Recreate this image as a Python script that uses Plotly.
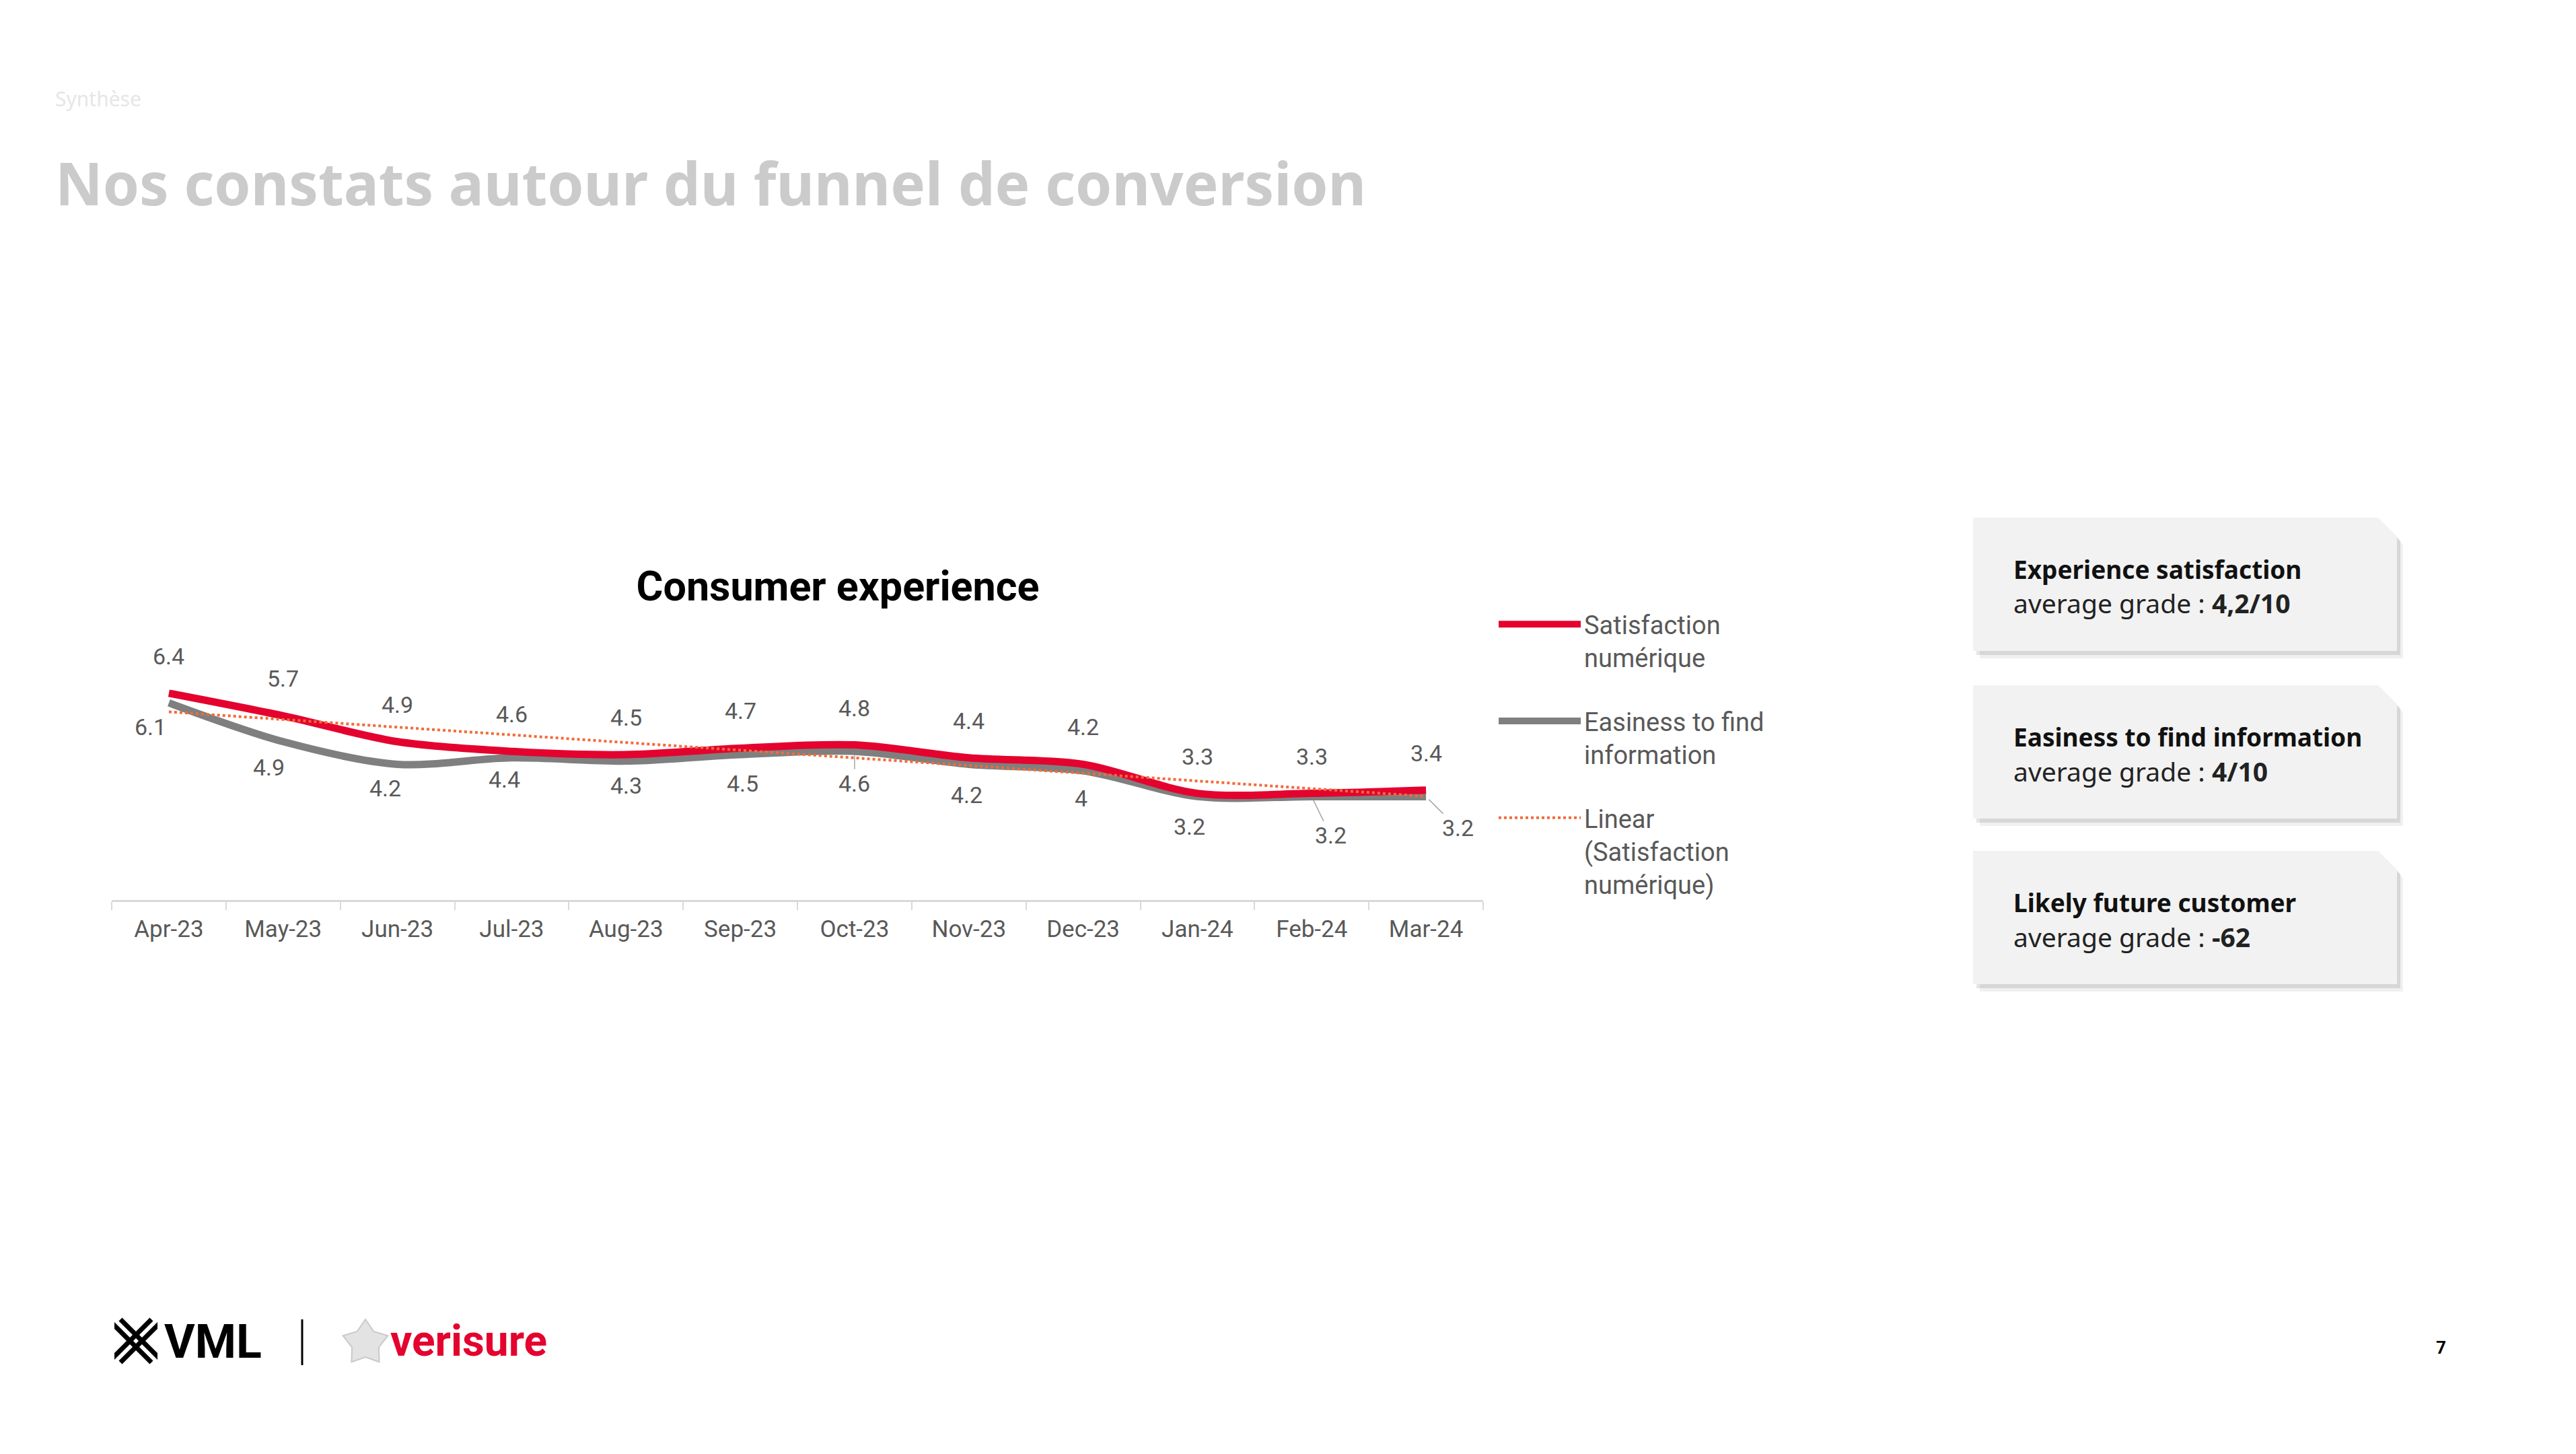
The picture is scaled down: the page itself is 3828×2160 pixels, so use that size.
import numpy as np
import plotly.graph_objects as go

W, H = 3828, 2160

# ---------------- data ----------------
months = ["Apr-23", "May-23", "Jun-23", "Jul-23", "Aug-23", "Sep-23",
          "Oct-23", "Nov-23", "Dec-23", "Jan-24", "Feb-24", "Mar-24"]
satisfaction = [6.4, 5.7, 4.9, 4.6, 4.5, 4.7, 4.8, 4.4, 4.2, 3.3, 3.3, 3.4]
easiness = [6.1, 4.9, 4.2, 4.4, 4.3, 4.5, 4.6, 4.2, 4.0, 3.2, 3.2, 3.2]
satisfaction_labels = ["6.4", "5.7", "4.9", "4.6", "4.5", "4.7", "4.8", "4.4", "4.2", "3.3", "3.3", "3.4"]
easiness_labels = ["6.1", "4.9", "4.2", "4.4", "4.3", "4.5", "4.6", "4.2", "4", "3.2", "3.2", "3.2"]

series_names = ["Satisfaction<br>numérique", "Easiness to find<br>information",
                "Linear<br>(Satisfaction<br>numérique)"]
chart_title = "Consumer experience"
page_title = "Nos constats autour du funnel de conversion"
page_kicker = "Synthèse"

card_titles = ["Experience satisfaction", "Easiness to find information", "Likely future customer"]
card_values = ["4,2/10", "4/10", "-62"]
page_number = "7"

# linear trendline of the satisfaction series (as the chart's "Linear" trend)
idx = np.arange(len(months))
slope, intercept = np.polyfit(idx, satisfaction, 1)
trend = list(intercept + slope * idx)

# ---------------- styles ----------------
RED = "#E4032E"
GREY = "#7F7F7F"
TREND = "#F26B3A"
LABEL = "#595959"
FONT = "Roboto"
CARD_FONT = "Noto Sans"


def px(x):
    return x / W


def py(y):
    return 1 - y / H


fig = go.Figure()
fig.add_trace(go.Scatter(x=months, y=easiness, name=series_names[1], mode="lines",
                         line=dict(color=GREY, width=11, shape="spline", smoothing=0.9),
                         legendgroup="b", legendrank=2, hoverinfo="skip"))
fig.add_trace(go.Scatter(x=months, y=satisfaction, name=series_names[0], mode="lines",
                         line=dict(color=RED, width=11, shape="spline", smoothing=0.9),
                         legendgroup="a", legendrank=1, hoverinfo="skip"))
fig.add_trace(go.Scatter(x=months, y=trend, name=series_names[2], mode="lines",
                         line=dict(color=TREND, width=4, dash="dot"),
                         legendgroup="c", legendrank=3, hoverinfo="skip"))

annotations = []
# satisfaction labels (above)
for m, v, t in zip(months, satisfaction, satisfaction_labels):
    annotations.append(dict(x=m, y=v, xref="x", yref="y", text=t, showarrow=False,
                            yshift=55, font=dict(family=FONT, size=34, color=LABEL)))
# easiness labels (below) - per-point offsets (style only)
eas_offsets = [(-27, -36), (-21, -38), (-18, -36), (-11, -32), (0, -36), (3, -43),
               None, (-3, -46), (-3, -41), (-12, -45), None, None]
eas_arrows = {6: (0, 48), 10: (28, 58), 11: (47, 47)}
for i, (m, v, t) in enumerate(zip(months, easiness, easiness_labels)):
    if i in eas_arrows:
        ax, ay = eas_arrows[i]
        annotations.append(dict(x=m, y=v, xref="x", yref="y", text=t, showarrow=True,
                                arrowhead=0, arrowwidth=1.5, arrowcolor="#A6A6A6",
                                ax=ax, ay=ay, standoff=6,
                                font=dict(family=FONT, size=34, color=LABEL)))
    else:
        dx, dy = eas_offsets[i]
        annotations.append(dict(x=m, y=v, xref="x", yref="y", text=t, showarrow=False,
                                xshift=dx, yshift=dy,
                                font=dict(family=FONT, size=34, color=LABEL)))

# page heading (blurred in original)
annotations.append(dict(x=px(80), y=py(146), xref="paper", yref="paper", text=page_kicker,
                        showarrow=False, xanchor="left", yanchor="middle",
                        font=dict(family=CARD_FONT, size=30, color="#E6E6E6")))
annotations.append(dict(x=px(80), y=py(271), xref="paper", yref="paper", text="<b>" + page_title + "</b>",
                        showarrow=False, xanchor="left", yanchor="middle",
                        font=dict(family=CARD_FONT, size=87, color="#CBCBCB")))

shapes = []
# cards
cards_y = [(769, 967), (1018, 1216), (1264, 1462)]
cx0, cx1, cut = 2932, 3562, 28


def card_path(x0, y0, x1, y1, c):
    pts = [(x0, y0), (x1 - c, y0), (x1, y0 + c), (x1, y1), (x0, y1)]
    return "M " + " L ".join(f"{px(a):.6f},{py(b):.6f}" for a, b in pts) + " Z"


for (y0, y1), t, v in zip(cards_y, card_titles, card_values):
    shapes.append(dict(type="path", xref="paper", yref="paper", path=card_path(cx0 + 10, y0 + 12, cx1 + 9, y1 + 11, cut),
                       fillcolor="rgba(0,0,0,0.06)", line=dict(width=0)))
    shapes.append(dict(type="path", xref="paper", yref="paper", path=card_path(cx0 + 5, y0 + 6, cx1 + 5, y1 + 6, cut),
                       fillcolor="rgba(0,0,0,0.10)", line=dict(width=0)))
    shapes.append(dict(type="path", xref="paper", yref="paper", path=card_path(cx0, y0, cx1, y1, cut),
                       fillcolor="#F2F2F2", line=dict(width=0)))
    annotations.append(dict(x=px(2990), y=py(y0 + 76), xref="paper", yref="paper", text="<b>" + t + "</b>",
                            showarrow=False, xanchor="left", yanchor="middle",
                            font=dict(family=CARD_FONT, size=37, color="#111111")))
    annotations.append(dict(x=px(2990), y=py(y0 + 127), xref="paper", yref="paper",
                            text="average grade : <b>" + v + "</b>",
                            showarrow=False, xanchor="left", yanchor="middle",
                            font=dict(family=CARD_FONT, size=39, color="#222222")))

# footer logos
# VML mark: X made of double stripes
mx0, my0, mx1, my1 = 170, 1960, 234, 2024
for off in (-9, 9):
    shapes.append(dict(type="line", xref="paper", yref="paper",
                       x0=px(mx0 + off), y0=py(my0), x1=px(mx1 + off), y1=py(my1),
                       line=dict(color="black", width=7)))
    shapes.append(dict(type="line", xref="paper", yref="paper",
                       x0=px(mx1 + off), y0=py(my0), x1=px(mx0 + off), y1=py(my1),
                       line=dict(color="black", width=7)))
shapes.append(dict(type="rect", xref="paper", yref="paper", x0=px(150), x1=px(170), y0=py(1955), y1=py(2030),
                   fillcolor="white", line=dict(width=0)))
shapes.append(dict(type="rect", xref="paper", yref="paper", x0=px(234), x1=px(250), y0=py(1955), y1=py(2030),
                   fillcolor="white", line=dict(width=0)))
annotations.append(dict(x=px(242), y=py(1993), xref="paper", yref="paper", text="<b>VML</b>",
                        showarrow=False, xanchor="left", yanchor="middle",
                        font=dict(family=FONT, size=70, color="black", weight=900)))
shapes.append(dict(type="line", xref="paper", yref="paper", x0=px(449), x1=px(449), y0=py(1960), y1=py(2028),
                   line=dict(color="black", width=3)))
# verisure star
scx, scy, ro, ri = 543, 1995, 35, 21
star = []
for k in range(10):
    ang = -np.pi / 2 + k * np.pi / 5
    r = ro if k % 2 == 0 else ri
    star.append((scx + r * np.cos(ang), scy + r * np.sin(ang)))
shapes.append(dict(type="path", xref="paper", yref="paper",
                   path="M " + " L ".join(f"{px(a):.6f},{py(b):.6f}" for a, b in star) + " Z",
                   fillcolor="#E3E3E3", line=dict(color="#C9C9C9", width=2)))
annotations.append(dict(x=px(578), y=py(1992), xref="paper", yref="paper", text="<b>verisure</b>",
                        showarrow=False, xanchor="left", yanchor="middle",
                        font=dict(family=FONT, size=64, color=RED)))
annotations.append(dict(x=px(3627), y=py(2002), xref="paper", yref="paper", text="<b>" + page_number + "</b>",
                        showarrow=False, xanchor="center", yanchor="middle",
                        font=dict(family=FONT, size=26, color="black")))

fig.update_layout(
    width=W, height=H,
    margin=dict(l=0, r=0, t=0, b=0),
    paper_bgcolor="white", plot_bgcolor="white",
    font=dict(family=FONT, color=LABEL),
    title=dict(text="<b>" + chart_title + "</b>", x=px(1245), y=py(871), xanchor="center", yanchor="middle",
               xref="paper", yref="paper", font=dict(family=FONT, size=61, color="black")),
    xaxis=dict(domain=[px(166), px(2204)], type="category", range=[-0.5, 11.5],
               showline=True, linecolor="#D9D9D9", linewidth=3,
               ticks="outside", tickson="boundaries", ticklen=12, tickcolor="#D9D9D9", tickwidth=2,
               ticklabelstandoff=10,
               showgrid=False, zeroline=False,
               tickfont=dict(family=FONT, size=35, color=LABEL)),
    yaxis=dict(domain=[py(1337), py(1337 - 8 * 48)], range=[0, 8], visible=False, showgrid=False),
    showlegend=True,
    legend=dict(x=px(2222), y=py(896), xanchor="left", yanchor="top", valign="top",
                font=dict(family=FONT, size=38, color=LABEL), itemwidth=122,
                tracegroupgap=42, bgcolor="rgba(0,0,0,0)", traceorder="grouped"),
    annotations=annotations,
    shapes=shapes,
)

fig.write_html("out.html")
